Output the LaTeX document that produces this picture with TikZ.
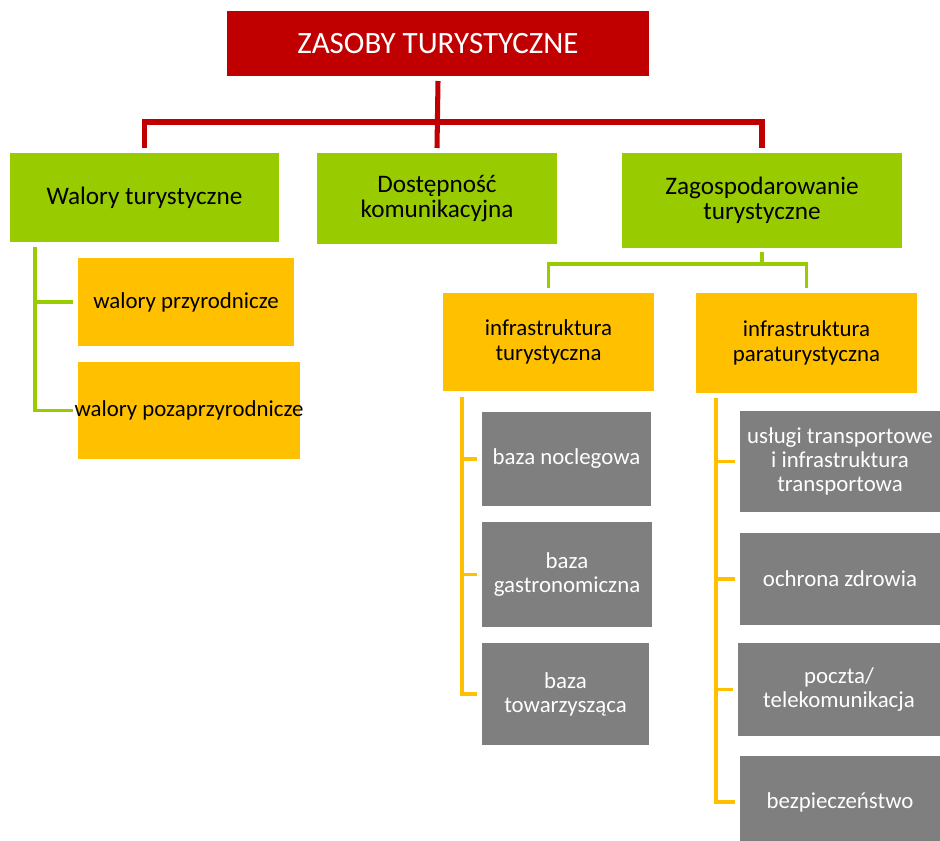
\documentclass[tikz,border=0pt]{standalone}
\usepackage{fontspec}
\setmainfont{Carlito}
\usepackage{xcolor}
\usepackage{tikz}
\usetikzlibrary{calc}

\definecolor{zasobyRed}{HTML}{C00000}
\definecolor{zasobyGreen}{HTML}{99CC00}
\definecolor{zasobyOrange}{HTML}{FFC000}
\definecolor{zasobyGray}{HTML}{7F7F7F}

\begin{document}
\begin{tikzpicture}[x=0.03cm, y=-0.03cm,
        block/.style={rectangle, inner sep=0pt, outer sep=0pt, align=center},
        redBlock/.style={block, fill=zasobyRed, text=white, font=\fontsize{26.5}{28}\selectfont},
        greenBlock/.style={block, fill=zasobyGreen, text=black, font=\fontsize{21.5}{21.5}\selectfont},
        orangeBlock/.style={block, fill=zasobyOrange, text=black, font=\fontsize{19.5}{21}\selectfont},
        grayBlock/.style={block, fill=zasobyGray, text=white, font=\fontsize{19.5}{20.5}\selectfont},
        redline/.style={draw=zasobyRed, line width=4.3pt},
        greenline/.style={draw=zasobyGreen, line width=3.4pt},
        yellowline/.style={draw=zasobyOrange, line width=3.4pt}]

        \useasboundingbox (0,0) rectangle (940,841);

        % Parameters
        \def\unit{0.03}    % one pixel of the layout, in cm

        % Function to draw a block from its two corners
        \newcommand{\drawBlock}[7]{
            % #1 name, #2 style, (#3,#4) top left, (#5,#6) bottom right, #7 text
            \pgfmathsetmacro{\boxW}{(#5-#3)*\unit}
            \pgfmathsetmacro{\boxH}{(#6-#4)*\unit}
            \node[#2, minimum width=\boxW cm, minimum height=\boxH cm] (#1)
                at ({(#3+#5)/2},{(#4+#6)/2}) {#7};
        }

        % Top level
        \drawBlock{top}{redBlock}{227}{11}{649}{76}{ZASOBY TURYSTYCZNE}

        % Second level
        \drawBlock{walory}{greenBlock}{10}{153}{279}{242}{Walory turystyczne}
        \drawBlock{dostep}{greenBlock}{317}{153}{557}{244}{Dostępność\\komunikacyjna}
        \drawBlock{zagosp}{greenBlock}{622}{153}{902}{248}{Zagospodarowanie\\turystyczne}

        % Third level
        \drawBlock{przyr}{orangeBlock}{78}{258}{294}{346}{walory przyrodnicze}
        \drawBlock{pozaprzyr}{orangeBlock}{78}{362}{300}{459}{\makebox[0pt]{walory pozaprzyrodnicze}}
        \drawBlock{infTur}{orangeBlock}{443}{293}{654}{391}{infrastruktura\\turystyczna}
        \drawBlock{infPara}{orangeBlock}{696}{293}{917}{393}{infrastruktura\\paraturystyczna}

        % Fourth level
        \drawBlock{nocleg}{grayBlock}{482}{412}{651}{506}{baza noclegowa}
        \drawBlock{gastro}{grayBlock}{482}{522}{652}{627}{baza\\gastronomiczna}
        \drawBlock{towarz}{grayBlock}{482}{643}{649}{745}{baza\\towarzysząca}
        \drawBlock{transport}{grayBlock}{740}{411}{940}{512}{usługi transportowe\\i infrastruktura\\transportowa}
        \drawBlock{zdrowie}{grayBlock}{740}{533}{940}{625}{ochrona zdrowia}
        \drawBlock{poczta}{grayBlock}{738}{643}{940}{736}{poczta/\\telekomunikacja}
        \drawBlock{bezp}{grayBlock}{740}{756}{940}{848}{bezpieczeństwo}

        % Red connectors
        \coordinate (redBus) at (438,122);
        \draw[redline] ($(top.south)+(0,5)$) -- ($(dostep.north)+(0,-5)$);
        \draw[redline] ($(walory.north)+(0,-5)$) |- (redBus) -| ($(zagosp.north)+(0,-5)$);

        % Green connectors
        \coordinate (walorySpine) at ($(walory.south west)+(25,5)$);
        \draw[greenline] (walorySpine) |- ($(pozaprzyr.west)+(-5,0)$);
        \draw[greenline] (walorySpine |- przyr.west) -- ($(przyr.west)+(-5,0)$);

        \coordinate (greenBus) at ($(zagosp.south)+(0,16)$);
        \draw[greenline] ($(zagosp.south)+(0,4)$) -- (greenBus);
        \draw[greenline] ($(infTur.north)+(0,-5)$) |- (greenBus) -| ($(infPara.north)+(0,-5)$);

        % Yellow connectors
        \coordinate (turSpine) at ($(infTur.south west)+(19,6)$);
        \draw[yellowline] (turSpine) |- ($(towarz.west)+(-5,0)$);
        \foreach \blk in {nocleg,gastro} {
            \draw[yellowline] (turSpine |- \blk.west) -- ($(\blk.west)+(-5,0)$);
        }

        \coordinate (paraSpine) at ($(infPara.south west)+(20,5)$);
        \draw[yellowline] (paraSpine) |- ($(bezp.west)+(-5,0)$);
        \foreach \blk in {transport,zdrowie,poczta} {
            \draw[yellowline] (paraSpine |- \blk.west) -- ($(\blk.west)+(-5,0)$);
        }

    \end{tikzpicture}
\end{document}
